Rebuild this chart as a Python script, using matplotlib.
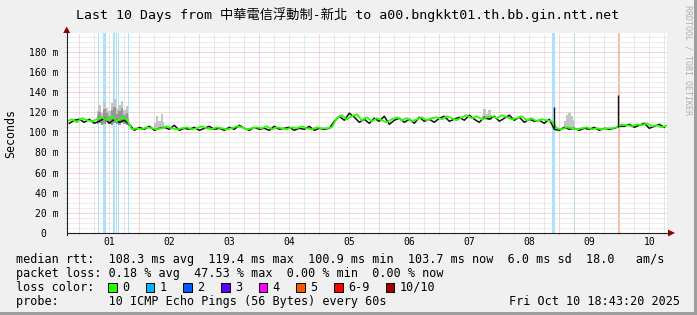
import numpy as np
import matplotlib
matplotlib.use("Agg")
import matplotlib.pyplot as plt
from matplotlib.patches import Rectangle, Polygon
from matplotlib.lines import Line2D

W, H = 697, 315
MONO = ['DejaVu Sans Mono', 'Noto Sans CJK TC']

# ---- data: hours since Oct 01 00:00, values in ms ----
t_first, t_last = -5.04, 234.96

# median rtt every 2 h starting at -5 h
median = [111, 113, 110, 114, 112, 111, 113,
          115, 112, 116, 111, 115, 113,
          103, 104, 103, 105, 104, 103, 104, 106, 104, 103,
          104, 105, 103, 104, 106, 104, 103, 105, 104, 103,
          104, 106, 105, 103, 104, 105, 104, 106, 103, 105,
          104, 103, 105, 104, 106, 104, 103, 105, 104, 104,
          105,
          114, 117, 113, 116, 118,
          112, 115, 111, 114, 112, 110, 113, 115, 112, 114, 111, 113, 115, 112, 114,
          115, 113, 116, 114, 112, 115, 117, 114, 116, 113, 115, 116,
          114, 117, 115, 113, 114, 116, 112, 114, 111, 113, 112,
          111,
          104, 103, 105, 104, 103, 104, 105, 103, 104, 103, 104,
          104, 105,
          108, 107, 106, 108, 107, 109, 106, 107, 105, 107]

# darker trace every 2 h starting at -4 h
dark = [109, 112, 113, 110, 113, 109,
        111, 114, 109, 113, 110, 112,
        108,
        102, 105, 103, 106, 102, 104, 105, 103, 107, 102,
        104, 103, 105, 102, 104, 106, 103, 104, 102, 105,
        103, 107, 104, 102, 105, 103, 104, 102, 106, 103,
        104, 105, 102, 104, 103, 106, 102, 104, 103,
        104,
        111, 116, 112, 119, 115, 110, 113, 109, 114, 111,
        116, 108, 112, 114, 110, 113, 109, 115, 111, 113,
        110, 114, 116, 111, 113, 115, 112, 117, 113, 110,
        115, 113, 116, 111, 114, 117, 112, 115, 110, 113, 111,
        112, 109, 113,
        103,
        102, 105, 103, 104, 102, 104, 103, 105, 102, 104, 103,
        104, 106,
        106, 108, 105, 107, 109, 104, 106, 108, 105]

med_t = -5 + 2 * np.arange(len(median))
dark_t = -4 + 2 * np.arange(len(dark))

# smoke patches (time, low, high)
smoke_t = [[7, 8, 9, 10, 11, 12, 13, 14, 15, 16, 17, 18, 19, 20],
           [30, 31, 32, 33, 34],
           [161, 162, 163, 164, 165],
           [194, 195, 196, 197, 198]]
smoke_lo = [[108, 109, 107, 108, 110, 108, 107, 109, 108, 107, 109, 108, 107, 106],
            [103, 103, 103, 103, 103],
            [112, 112, 112, 112, 112],
            [103, 103, 103, 103, 103]]
smoke_hi = [[121, 127, 119, 130, 124, 121, 129, 133, 123, 127, 131, 122, 126, 117],
            [109, 116, 111, 118, 110],
            [117, 123, 118, 122, 116],
            [111, 117, 119, 116, 112]]
smoke_mid = [116, 120, 115, 123, 119, 116, 122, 125, 118, 121, 124, 117, 119, 113]

spike_t = [189.7, 215.6]
spike_lo = [104, 105]
spike_hi = [125, 137]

# packet loss periods
loss_start = [7.4, 9.6, 13.4, 14.7, 15.4, 19.4, 189.2, 197.9, 215.5]
loss_end = [8.0, 10.6, 14.3, 15.1, 16.0, 20.0, 190.2, 198.3, 216.1]
loss_cls = [1, 1, 1, 1, 1, 1, 1, 1, 5]

day_labels = ['01', '02', '03', '04', '05', '06', '07', '08', '09', '10']
y_ticks = [0, 20, 40, 60, 80, 100, 120, 140, 160, 180]
y_labels = ['0  ', '20 m', '40 m', '60 m', '80 m', '100 m', '120 m', '140 m', '160 m', '180 m']

legend_names = ['0', '1', '2', '3', '4', '5', '6-9', '10/10']
legend_colors = ['#26ff00', '#00b8ff', '#0059ff', '#5e00ff', '#ff00ff', '#ff5500', '#ff0000', '#a10000']
stripe_colors = {1: '#a6e3ff', 5: '#ffc4a6'}


def fx(px):
    return px / W


def fy(py):
    return 1 - py / H


fig = plt.figure(figsize=(W / 100, H / 100), dpi=100, facecolor='#f0f0f0')
ax = fig.add_axes([fx(66.7), fy(233), 600 / W, 200.3 / H])
ax.set_facecolor('white')
for s in ax.spines.values():
    s.set_visible(False)
ax.set_xlim(t_first, t_last)
ax.set_ylim(0, 199)

# loss stripes
for a, b, c in zip(loss_start, loss_end, loss_cls):
    ax.axvspan(a, b, color=stripe_colors[c], lw=0, zorder=1)

# grid
for h in range(0, 235, 6):
    if h % 24 == 0:
        ax.axvline(h, ymin=-0.012, color='#eaaeae', lw=0.72, dashes=(1, 1), zorder=2, clip_on=False)
    else:
        ax.axvline(h, ymin=-0.012, color='#d2d2d2', lw=0.72, dashes=(1, 1), zorder=2, clip_on=False)
for v in range(5, 200, 5):
    if v % 20 == 0:
        ax.axhline(v, xmin=-0.004, color='#eaaeae', lw=0.72, dashes=(1, 1), zorder=2, clip_on=False)
    else:
        ax.axhline(v, xmin=-0.004, color='#dcdcdc', lw=0.72, dashes=(1, 1), zorder=2, clip_on=False)

# smoke
for ts, lo, hi in zip(smoke_t, smoke_lo, smoke_hi):
    ax.fill_between(ts, lo, hi, color='#c4c4c4', lw=0, step='mid', zorder=3)
ax.fill_between(smoke_t[0], smoke_lo[0], smoke_mid, color='#979797', lw=0, step='mid', zorder=3)

# median
ax.plot(dark_t, dark, color='#111111', lw=1.1, zorder=4)
ax.plot(med_t, median, color=legend_colors[0], lw=1.3, zorder=5)
ax.vlines(spike_t, spike_lo, spike_hi, color='#111111', lw=1.0, zorder=6)

# ticks
ax.set_xticks([24 * i + 12 for i in range(len(day_labels))])
ax.set_xticklabels(day_labels, family=MONO, fontsize=7)
ax.set_yticks(y_ticks)
ax.set_yticklabels(y_labels, family=MONO, fontsize=7)
ax.tick_params(axis='x', length=0, pad=2.7)
ax.tick_params(axis='y', length=0, pad=5.9)

# axes lines and arrows
fig.add_artist(Line2D([fx(66.7), fx(669)], [fy(233), fy(233)], color='#202020', lw=0.8))
fig.add_artist(Line2D([fx(66.7), fx(66.7)], [fy(235), fy(31)], color='#202020', lw=0.8))
fig.add_artist(Polygon([[fx(668), fy(229.5)], [fx(668), fy(236.5)], [fx(675), fy(233)]],
                       closed=True, color='#990000', lw=0))
fig.add_artist(Polygon([[fx(63.2), fy(33)], [fx(70.2), fy(33)], [fx(66.7), fy(26.5)]],
                       closed=True, color='#990000', lw=0))

# frame shading
fig.add_artist(Rectangle((fx(694), 0), 3 / W, 1, color='#9e9e9e', lw=0))
fig.add_artist(Rectangle((0, 0), 1, 3 / H, color='#9e9e9e', lw=0))

# texts
fig.text(fx(348), fy(15), 'Last 10 Days from 中華電信浮動制-新北 to a00.bngkkt01.th.bb.gin.ntt.net',
         family=MONO, fontsize=9.5, ha='center', va='center', color='#000000')
fig.text(fx(11), fy(133), 'Seconds', family=MONO, fontsize=8.4, rotation=90,
         ha='center', va='center')
fig.text(fx(688), fy(5), 'RRDTOOL / TOBI OETIKER', family=MONO, fontsize=6, rotation=270,
         ha='center', va='top', color='#b0b0b0')

LS = 8.5
fig.text(fx(16), fy(259),
         'median rtt:  108.3 ms avg  119.4 ms max  100.9 ms min  103.7 ms now  6.0 ms sd  18.0   am/s',
         family=MONO, fontsize=LS, va='center')
fig.text(fx(16), fy(273.5),
         'packet loss: 0.18 % avg  47.53 % max  0.00 % min  0.00 % now',
         family=MONO, fontsize=LS, va='center')
fig.text(fx(16), fy(287.5), 'loss color:', family=MONO, fontsize=LS, va='center')
bx = 108
cw = 7.08
for name, col in zip(legend_names, legend_colors):
    fig.add_artist(Rectangle((fx(bx), fy(291.5)), 8.5 / W, 8.5 / H, facecolor=col,
                             edgecolor='black', lw=0.7))
    fig.text(fx(bx + 14), fy(287.5), name, family=MONO, fontsize=LS, va='center')
    bx = bx + 14 + len(name) * cw + 16.6
fig.text(fx(16), fy(301.5), 'probe:       10 ICMP Echo Pings (56 Bytes) every 60s',
         family=MONO, fontsize=LS, va='center')
fig.text(fx(680), fy(301.5), 'Fri Oct 10 18:43:20 2025', family=MONO, fontsize=LS,
         va='center', ha='right')

fig.savefig('out.png', dpi=100, facecolor=fig.get_facecolor())
